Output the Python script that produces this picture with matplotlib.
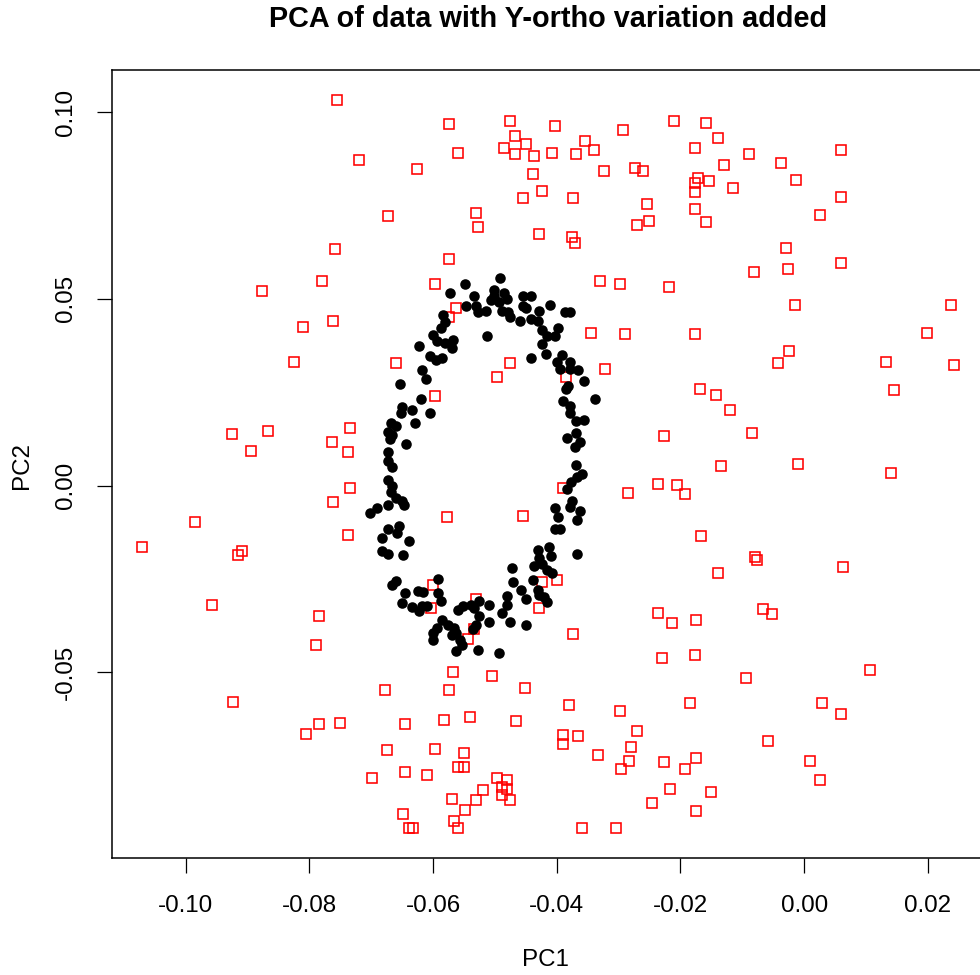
import matplotlib
matplotlib.use("Agg")
import matplotlib.pyplot as plt

plt.rcParams["font.family"] = ["Liberation Sans", "DejaVu Sans"]
plt.rcParams["axes.unicode_minus"] = False

# Samples carrying the added Y-orthogonal variation (open red squares)
red_pc1 = [
    -0.0756, -0.0720, -0.0673, -0.0759, -0.0779, -0.0876, -0.0761, -0.0810,
    -0.0574, -0.0476, -0.0403, -0.0293, -0.0210, -0.0159, -0.0467, -0.0450,
    -0.0486, -0.0467, -0.0437, -0.0408, -0.0369, -0.0354, -0.0340, -0.0559,
    -0.0626, -0.0439, -0.0324, -0.0273, -0.0260, -0.0176, -0.0172, -0.0177,
    -0.0154, -0.0176, -0.0423, -0.0454, -0.0374, -0.0254, -0.0177, -0.0530,
    -0.0528, -0.0428, -0.0376, -0.0371, -0.0270, -0.0250, -0.0158, -0.0574,
    -0.0597, -0.0330, -0.0298, -0.0218, -0.0563, -0.0574, -0.0345, -0.0289,
    -0.0177, -0.0140, -0.0089, -0.0130, -0.0037, 0.0059, -0.0115, -0.0013,
    0.0060, 0.0026, -0.0029, 0.0060, -0.0081, -0.0026, -0.0015, 0.0237,
    0.0198, -0.0824, -0.0925, -0.0867, -0.0894, -0.0764, -0.0735, -0.0737,
    -0.0735, -0.0761, -0.0984, -0.1070, -0.0909, -0.0915, -0.0737, -0.0024,
    -0.0042, 0.0132, 0.0242, -0.0322, 0.0146, -0.0169, -0.0143, -0.0119,
    -0.0085, -0.0226, -0.0135, -0.0010, 0.0141, -0.0237, -0.0205, -0.0285,
    -0.0193, -0.0167, -0.0080, -0.0076, 0.0063, -0.0140, -0.0958, -0.0785,
    -0.0789, -0.0678, -0.0924, -0.0785, -0.0751, -0.0805, -0.0646, -0.0675,
    -0.0646, -0.0699, -0.0649, -0.0639, -0.0236, -0.0213, -0.0174, -0.0428,
    -0.0374, -0.0543, -0.0229, -0.0177, -0.0567, -0.0504, -0.0452, -0.0574,
    -0.0380, -0.0298, -0.0184, -0.0582, -0.0540, -0.0465, -0.0270, -0.0389,
    -0.0366, -0.0389, -0.0597, -0.0550, -0.0280, -0.0333, -0.0283, -0.0559,
    -0.0550, -0.0296, -0.0226, -0.0174, -0.0193, -0.0610, -0.0496, -0.0480,
    -0.0488, -0.0481, -0.0488, -0.0476, -0.0519, -0.0530, -0.0569, -0.0548,
    -0.0216, -0.0246, -0.0174, -0.0151, -0.0566, -0.0559, -0.0633, -0.0359,
    -0.0304, -0.0067, -0.0052, 0.0106, -0.0094, 0.0029, 0.0060, -0.0059,
    0.0010, 0.0026, -0.0660, -0.0475, -0.0496, -0.0385, -0.0597, -0.0577,
    -0.0455, -0.0389, -0.0600, -0.0424, -0.0400, -0.0530, -0.0603, -0.0533,
]
red_pc2 = [
    0.1032, 0.0872, 0.0723, 0.0635, 0.0549, 0.0520, 0.0440, 0.0424,
    0.0968, 0.0976, 0.0963, 0.0952, 0.0976, 0.0971, 0.0936, 0.0915,
    0.0904, 0.0888, 0.0883, 0.0891, 0.0888, 0.0923, 0.0899, 0.0891,
    0.0848, 0.0835, 0.0843, 0.0851, 0.0843, 0.0904, 0.0824, 0.0811,
    0.0816, 0.0787, 0.0789, 0.0771, 0.0771, 0.0755, 0.0741, 0.0731,
    0.0693, 0.0675, 0.0667, 0.0651, 0.0699, 0.0709, 0.0707, 0.0608,
    0.0541, 0.0549, 0.0541, 0.0533, 0.0477, 0.0451, 0.0408, 0.0405,
    0.0405, 0.0931, 0.0888, 0.0859, 0.0864, 0.0899, 0.0797, 0.0819,
    0.0773, 0.0725, 0.0637, 0.0597, 0.0573, 0.0579, 0.0485, 0.0485,
    0.0408, 0.0331, 0.0139, 0.0147, 0.0093, 0.0117, 0.0155, 0.0091,
    -0.0005, -0.0045, -0.0096, -0.0163, -0.0176, -0.0187, -0.0131, 0.0360,
    0.0328, 0.0331, 0.0323, 0.0312, 0.0256, 0.0259, 0.0243, 0.0203,
    0.0141, 0.0133, 0.0053, 0.0059, 0.0035, 0.0005, 0.0003, -0.0019,
    -0.0021, -0.0136, -0.0192, -0.0200, -0.0219, -0.0235, -0.0320, -0.0349,
    -0.0427, -0.0547, -0.0579, -0.0637, -0.0635, -0.0664, -0.0637, -0.0707,
    -0.0768, -0.0784, -0.0880, -0.0917, -0.0341, -0.0368, -0.0360, -0.0328,
    -0.0397, -0.0411, -0.0461, -0.0453, -0.0499, -0.0509, -0.0541, -0.0547,
    -0.0587, -0.0603, -0.0581, -0.0627, -0.0619, -0.0629, -0.0656, -0.0667,
    -0.0669, -0.0691, -0.0704, -0.0717, -0.0699, -0.0720, -0.0736, -0.0752,
    -0.0752, -0.0760, -0.0739, -0.0728, -0.0760, -0.0776, -0.0784, -0.0787,
    -0.0808, -0.0813, -0.0827, -0.0843, -0.0816, -0.0843, -0.0840, -0.0869,
    -0.0813, -0.0851, -0.0872, -0.0819, -0.0899, -0.0917, -0.0917, -0.0917,
    -0.0917, -0.0331, -0.0344, -0.0493, -0.0515, -0.0581, -0.0611, -0.0683,
    -0.0736, -0.0787, 0.0328, 0.0328, 0.0291, 0.0291, 0.0240, -0.0083,
    -0.0080, -0.0005, -0.0267, -0.0259, -0.0253, -0.0304, -0.0328, -0.0384,
]

# Original samples forming the ring (filled black circles)
ring_pc1 = [
    -0.0491, -0.0548, -0.0572, -0.0533, -0.0502, -0.0501, -0.0507, -0.0494,
    -0.0485, -0.0480, -0.0455, -0.0441, -0.0450, -0.0455, -0.0428, -0.0411,
    -0.0546, -0.0530, -0.0528, -0.0515, -0.0489, -0.0478, -0.0475, -0.0460,
    -0.0441, -0.0431, -0.0387, -0.0379, -0.0584, -0.0580, -0.0587, -0.0423,
    -0.0398, -0.0416, -0.0403, -0.0512, -0.0600, -0.0593, -0.0580, -0.0567,
    -0.0569, -0.0623, -0.0423, -0.0418, -0.0605, -0.0595, -0.0585, -0.0441,
    -0.0392, -0.0379, -0.0400, -0.0395, -0.0379, -0.0366, -0.0618, -0.0611,
    -0.0654, -0.0356, -0.0385, -0.0382, -0.0338, -0.0620, -0.0389, -0.0650,
    -0.0652, -0.0634, -0.0605, -0.0379, -0.0379, -0.0369, -0.0356, -0.0668,
    -0.0660, -0.0629, -0.0673, -0.0667, -0.0670, -0.0644, -0.0384, -0.0369,
    -0.0363, -0.0371, -0.0672, -0.0673, -0.0369, -0.0667, -0.0673, -0.0667,
    -0.0668, -0.0660, -0.0650, -0.0647, -0.0672, -0.0691, -0.0702, -0.0655,
    -0.0673, -0.0659, -0.0683, -0.0639, -0.0683, -0.0673, -0.0649, -0.0667,
    -0.0660, -0.0646, -0.0650, -0.0624, -0.0616, -0.0592, -0.0592, -0.0587,
    -0.0634, -0.0623, -0.0618, -0.0610, -0.0585, -0.0593, -0.0600, -0.0600,
    -0.0576, -0.0566, -0.0563, -0.0569, -0.0556, -0.0553, -0.0563, -0.0528,
    -0.0494, -0.0559, -0.0551, -0.0538, -0.0533, -0.0525, -0.0509, -0.0525,
    -0.0530, -0.0535, -0.0509, -0.0489, -0.0481, -0.0480, -0.0476, -0.0449,
    -0.0473, -0.0470, -0.0457, -0.0449, -0.0439, -0.0436, -0.0431, -0.0413,
    -0.0428, -0.0423, -0.0410, -0.0415, -0.0408, -0.0431, -0.0428, -0.0420,
    -0.0415, -0.0403, -0.0395, -0.0403, -0.0398, -0.0379, -0.0363, -0.0367,
    -0.0376, -0.0367, -0.0384, -0.0377, -0.0367, -0.0359,
]
ring_pc2 = [
    0.0555, 0.0541, 0.0515, 0.0507, 0.0525, 0.0509, 0.0496, 0.0493,
    0.0515, 0.0501, 0.0507, 0.0507, 0.0477, 0.0480, 0.0469, 0.0485,
    0.0480, 0.0480, 0.0464, 0.0467, 0.0469, 0.0464, 0.0451, 0.0440,
    0.0445, 0.0440, 0.0464, 0.0464, 0.0456, 0.0437, 0.0421, 0.0416,
    0.0421, 0.0400, 0.0400, 0.0400, 0.0403, 0.0387, 0.0381, 0.0389,
    0.0368, 0.0373, 0.0379, 0.0352, 0.0347, 0.0336, 0.0341, 0.0341,
    0.0349, 0.0331, 0.0331, 0.0312, 0.0312, 0.0309, 0.0309, 0.0285,
    0.0272, 0.0280, 0.0259, 0.0267, 0.0232, 0.0232, 0.0227, 0.0211,
    0.0195, 0.0203, 0.0195, 0.0213, 0.0195, 0.0173, 0.0176, 0.0168,
    0.0160, 0.0168, 0.0144, 0.0136, 0.0125, 0.0112, 0.0128, 0.0141,
    0.0117, 0.0104, 0.0091, 0.0067, 0.0056, 0.0051, 0.0016, 0.0000,
    -0.0016, -0.0032, -0.0040, -0.0053, -0.0053, -0.0061, -0.0072, -0.0109,
    -0.0115, -0.0128, -0.0141, -0.0149, -0.0176, -0.0184, -0.0187, -0.0267,
    -0.0256, -0.0288, -0.0315, -0.0283, -0.0285, -0.0251, -0.0288, -0.0309,
    -0.0325, -0.0336, -0.0323, -0.0323, -0.0360, -0.0381, -0.0395, -0.0413,
    -0.0373, -0.0381, -0.0395, -0.0400, -0.0413, -0.0427, -0.0443, -0.0440,
    -0.0448, -0.0333, -0.0323, -0.0320, -0.0328, -0.0309, -0.0320, -0.0349,
    -0.0373, -0.0384, -0.0365, -0.0341, -0.0320, -0.0296, -0.0365, -0.0373,
    -0.0221, -0.0259, -0.0280, -0.0304, -0.0253, -0.0216, -0.0171, -0.0165,
    -0.0195, -0.0211, -0.0189, -0.0227, -0.0235, -0.0280, -0.0293, -0.0299,
    -0.0312, -0.0117, -0.0117, -0.0061, -0.0085, -0.0056, -0.0069, -0.0093,
    -0.0040, -0.0184, -0.0008, 0.0011, 0.0024, 0.0032,
]

x_ticks = [-0.10, -0.08, -0.06, -0.04, -0.02, 0.00, 0.02]
y_ticks = [-0.05, 0.00, 0.05, 0.10]

W, H = 980, 975
fig = plt.figure(figsize=(W / 100, H / 100), dpi=100)
ax = fig.add_axes([112 / W, 117 / H, (985 - 112) / W, (858 - 70) / H])

ax.plot(red_pc1, red_pc2, linestyle="none", marker="s", markersize=6.6,
        markerfacecolor="none", markeredgecolor="#FF0000",
        markeredgewidth=1.15)
ax.plot(ring_pc1, ring_pc2, linestyle="none", marker="o", markersize=7.6,
        markerfacecolor="black", markeredgecolor="black",
        markeredgewidth=0)

ax.set_xlim(-0.1119, 0.02925)
ax.set_ylim(-0.0997, 0.1113)

ax.set_xticks(x_ticks)
ax.set_xticklabels([f"{v:.2f}" for v in x_ticks])
ax.set_yticks(y_ticks)
ax.set_yticklabels([f"{v:.2f}" for v in y_ticks], rotation=90, va="center")

ax.tick_params(axis="both", direction="out", length=10.5, width=0.9,
               labelsize=17.4, colors="black")
ax.tick_params(axis="x", pad=16)
ax.tick_params(axis="y", pad=15)
for s in ax.spines.values():
    s.set_linewidth(1.1)
    s.set_color("black")

fig.text(545 / W, 1 - 960 / H, "PC1", ha="center", va="center", fontsize=17.4)
fig.text(22 / W, 1 - 465 / H, "PC2", ha="center", va="center",
         fontsize=17.4, rotation=90)
fig.text(548 / W, 1 - 19 / H, "PCA of data with Y-ortho variation added",
         ha="center", va="center", fontsize=20.8, fontweight="bold")

fig.savefig("out.png", dpi=100, facecolor="white")
